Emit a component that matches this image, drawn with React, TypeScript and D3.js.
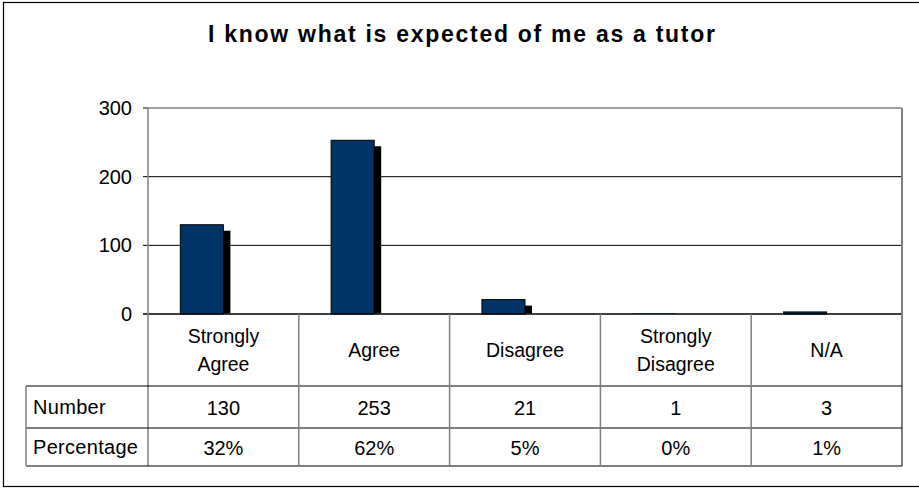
import React from "react";
import * as d3 from "d3";

const categories: string[][] = [
  ["Strongly", "Agree"],
  ["Agree"],
  ["Disagree"],
  ["Strongly", "Disagree"],
  ["N/A"],
];
const numberValues = [130, 253, 21, 1, 3];
const percentageValues = [0.32, 0.62, 0.05, 0.0, 0.01];
const percentageLabels = ["32%", "62%", "5%", "0%", "1%"];
const rowLabels = ["Number", "Percentage"];
const yTicks = [0, 100, 200, 300];
const title = "I know what is expected of me as a tutor";

const W = 919;
const H = 489;
const FONT = "'Liberation Sans', Arial, Helvetica, sans-serif";

export default function App() {
  const left = 148;
  const right = 902;
  const top = 108;
  const zeroY = 314;
  const catRowBottom = 386;
  const numRowBottom = 428;
  const pctRowBottom = 466;
  const tableLeft = 26;

  const y = d3.scaleLinear().domain([0, 300]).range([zeroY, top]);
  const keys = ["Number", "Percentage"];
  const x = d3
    .scaleBand<number>()
    .domain(d3.range(categories.length))
    .range([left, right])
    .paddingInner(0)
    .paddingOuter(0);
  const bw = x.bandwidth();
  const gap = 1.5;
  const barW = bw / (2 + gap);
  const sub = d3
    .scaleBand<string>()
    .domain(keys)
    .range([barW * gap / 2, bw - barW * gap / 2])
    .padding(0);

  const grey = "#808080";
  const dark = "#000";
  const shadowDx = 7;
  const shadowDy = 6;

  return (
    <svg
      width={W}
      height={H}
      style={{ position: "absolute", left: 0, top: 0, background: "#fff" }}
      fontFamily={FONT}
    >
      <defs>
        <clipPath id="plotClip">
          <rect x={left} y={0} width={right - left} height={zeroY - 0.5} />
        </clipPath>
      </defs>
      {/* outer frame */}
      <rect x={3.5} y={2.5} width={930} height={484} fill="#fff" stroke="#000" strokeWidth={1.2} />

      {/* title */}
      <text
        x={461.5}
        y={42}
        textAnchor="middle"
        fontSize={23}
        fontWeight="bold"
        textLength={507}
        lengthAdjust="spacing"
      >
        {title}
      </text>

      {/* gridlines */}
      {yTicks.map((t) => (
        <line
          key={"g" + t}
          x1={left}
          x2={right}
          y1={y(t)}
          y2={y(t)}
          stroke={t === 300 ? grey : dark}
          strokeWidth={t === 300 ? 1.5 : 1}
        />
      ))}
      {/* y ticks and labels */}
      {yTicks.map((t) => (
        <g key={"t" + t}>
          <line x1={left - 5} x2={left} y1={y(t)} y2={y(t)} stroke={dark} />
          <text x={132} y={y(t) + 7} textAnchor="end" fontSize={20}>
            {t}
          </text>
        </g>
      ))}

      {/* bars */}
      <g clipPath="url(#plotClip)">
        {numberValues.map((v, i) => {
          const bx = (x(i) as number) + (sub("Number") as number);
          const by = y(v);
          const h = zeroY - by;
          return (
            <rect
              key={"s" + i}
              x={bx + shadowDx}
              y={by + shadowDy}
              width={barW}
              height={Math.max(h, 0)}
              fill="#000"
            />
          );
        })}
      </g>
      {numberValues.map((v, i) => {
        const bx = (x(i) as number) + (sub("Number") as number);
        const by = y(v);
        const h = zeroY - by;
        return (
          <rect
            key={"b" + i}
            x={bx}
            y={by}
            width={barW}
            height={Math.max(h, 0)}
            fill="#003366"
            stroke={h > 1.5 ? "#000" : "none"}
            strokeWidth={1}
          />
        );
      })}

      {/* zero line */}
      <line x1={left - 5} x2={right} y1={zeroY} y2={zeroY} stroke={dark} strokeWidth={1.2} />

      {/* plot frame: y axis and right border */}
      <line x1={left} x2={left} y1={top} y2={pctRowBottom} stroke={grey} strokeWidth={1.5} />
      <line x1={right} x2={right} y1={top} y2={pctRowBottom} stroke={grey} strokeWidth={2} />

      {/* table horizontal lines */}
      {[catRowBottom, numRowBottom, pctRowBottom].map((yy) => (
        <line key={"h" + yy} x1={tableLeft} x2={right} y1={yy} y2={yy} stroke={dark} strokeWidth={1} />
      ))}
      <line x1={tableLeft} x2={tableLeft} y1={catRowBottom} y2={pctRowBottom} stroke={grey} strokeWidth={1.5} />
      {d3.range(1, categories.length).map((i) => (
        <line
          key={"v" + i}
          x1={x(i) as number}
          x2={x(i) as number}
          y1={zeroY}
          y2={pctRowBottom}
          stroke={grey}
          strokeWidth={1.5}
        />
      ))}

      {/* category labels */}
      {categories.map((lines, i) => {
        const cx = (x(i) as number) + bw / 2;
        const mid = (zeroY + catRowBottom) / 2;
        const lh = 28.5;
        const first = mid + 7 - ((lines.length - 1) * lh) / 2;
        return (
          <text key={"c" + i} x={cx} textAnchor="middle" fontSize={19.5}>
            {lines.map((l, j) => (
              <tspan key={j} x={cx} y={first + j * lh}>
                {l}
              </tspan>
            ))}
          </text>
        );
      })}

      {/* row labels */}
      {rowLabels.map((r, k) => {
        const rowMid = k === 0 ? (catRowBottom + numRowBottom) / 2 : (numRowBottom + pctRowBottom) / 2;
        return (
          <text key={"r" + k} x={33} y={rowMid + 7} fontSize={20} letterSpacing={0.3}>
            {r}
          </text>
        );
      })}

      {/* table values */}
      {numberValues.map((v, i) => (
        <text
          key={"n" + i}
          x={(x(i) as number) + bw / 2}
          y={(catRowBottom + numRowBottom) / 2 + 8}
          textAnchor="middle"
          fontSize={20}
        >
          {v}
        </text>
      ))}
      {percentageValues.map((v, i) => (
        <text
          key={"p" + i}
          x={(x(i) as number) + bw / 2}
          y={(numRowBottom + pctRowBottom) / 2 + 8}
          textAnchor="middle"
          fontSize={20}
        >
          {percentageLabels[i]}
        </text>
      ))}
    </svg>
  );
}
